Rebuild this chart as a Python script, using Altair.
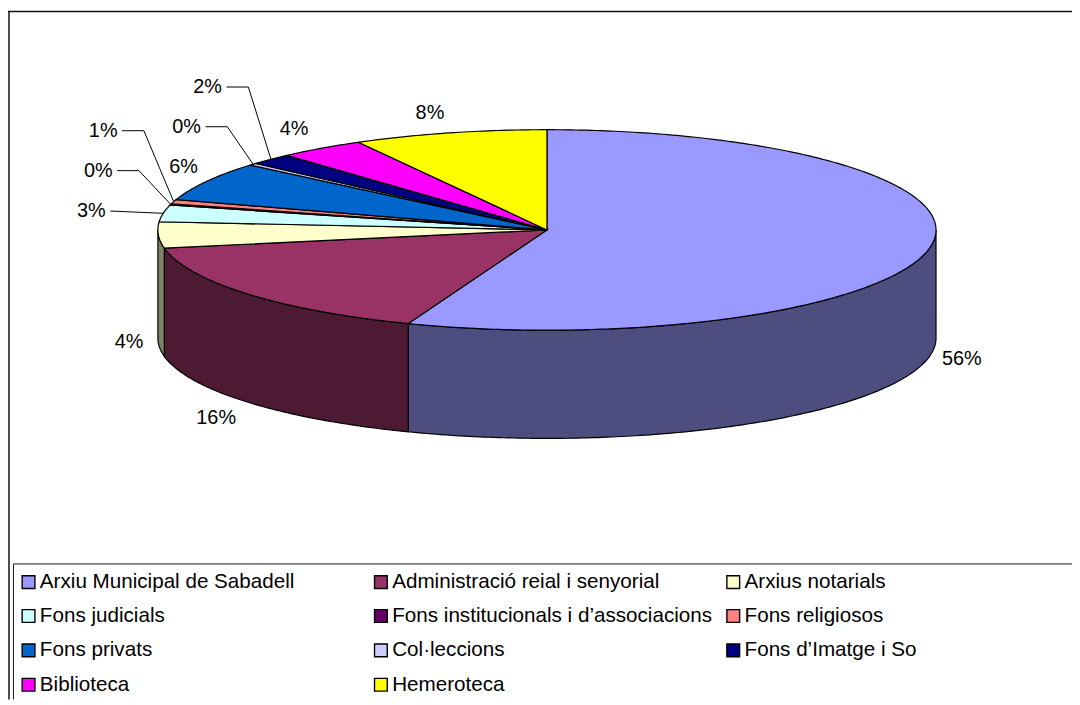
import math
import altair as alt

categories = ["Arxiu Municipal de Sabadell", "Administració reial i senyorial", "Arxius notarials",
              "Fons judicials", "Fons institucionals i d’associacions", "Fons religiosos",
              "Fons privats", "Col·leccions", "Fons d’Imatge i So", "Biblioteca", "Hemeroteca"]
shares = [55.8, 16.3, 4.2, 2.7, 0.2, 0.7, 6.3, 0.35, 1.8, 3.6, 8.05]
percent_labels = ["56%", "16%", "4%", "3%", "0%", "1%", "6%", "0%", "2%", "4%", "8%"]

top_colors = ["#9999FF", "#993366", "#FFFFCC", "#CCFFFF", "#660066", "#FF8080",
              "#0066CC", "#CCCCFF", "#000080", "#FF00FF", "#FFFF00"]
wall_colors = ["#4D4D80", "#4D1A33", "#808066"]

CX, CY, RX, RY, DEPTH = 551, 232, 392, 101, 109
label_dx = [32.5, -32, -29.5, -72.4, -73, -71, -23.2, -67, -63.8, -27.4, -19.8]
label_dy = [111.7, 124.4, 107.9, -2.3, -34, -71.5, -14, -37.8, -72.8, -19.8, -20.2]
leader_kind = [None, None, None, "straight", "elbow", "elbow", None, "elbow", "elbow", None, None]
LEADER_GAP, LEADER_ELBOW = 19, 41


def rim(p, drop=0.0):
    a = 2 * math.pi * p / 100
    return [CX + RX * math.sin(a), CY - RY * math.cos(a) + drop]


def arc(p0, p1, drop=0.0):
    n = max(2, int((p1 - p0) / 0.2) + 1)
    return [rim(p0 + (p1 - p0) * i / (n - 1), drop) for i in range(n)]


def feature(ring, **props):
    return {"type": "Feature", "properties": props,
            "geometry": {"type": "Polygon", "coordinates": [ring + [ring[0]]]}}


total = sum(shares)
bounds = [0.0]
for s in shares:
    bounds.append(bounds[-1] + s * 100 / total)

tops, walls, labels, leaders = [], [], [], []
for i, name in enumerate(categories):
    p0, p1 = bounds[i], bounds[i + 1]
    tops.append(feature([[CX, CY]] + arc(p0, p1), name=name))
    w0, w1 = max(p0, 25.0), min(p1, 75.0)
    if w1 > w0:
        walls.append(feature(arc(w0, w1) + arc(w0, w1, DEPTH)[::-1], fill=wall_colors[i]))
    mx, my = rim((p0 + p1) / 2)
    lx, ly = mx + label_dx[i], my + label_dy[i]
    labels.append({"lon": lx, "lat": ly, "text": percent_labels[i]})
    if leader_kind[i]:
        pts = [[lx + LEADER_GAP, ly]]
        if leader_kind[i] == "elbow":
            pts.append([lx + LEADER_ELBOW, ly])
        pts.append([mx, my])
        for k, (a, b) in enumerate(pts):
            leaders.append({"lon": a, "lat": b, "k": k, "id": i})

proj = dict(type="identity", scale=1, translate=[-8, -11])
FONT = "Liberation Sans"

wall_layer = alt.Chart(alt.Data(values=walls)).mark_geoshape(stroke="black", strokeWidth=1.2).encode(
    fill=alt.Fill("properties.fill:N", scale=None)
).project(**proj)

top_layer = alt.Chart(alt.Data(values=tops)).mark_geoshape(stroke="black", strokeWidth=1.2).encode(
    color=alt.Color(
        "properties.name:N",
        scale=alt.Scale(domain=categories, range=top_colors),
        legend=alt.Legend(
            title=None, orient="none", legendX=10.3, legendY=565, columns=3, direction="horizontal",
            gridAlign="all", columnPadding=10, rowPadding=12.6, padding=0,
            symbolType="square", symbolSize=165, symbolStrokeColor="black", symbolStrokeWidth=1.4,
            labelFont=FONT, labelFontSize=20.8, labelColor="black", labelLimit=500, labelOffset=1,
            values=categories,
        ),
    )
).project(**proj)

leader_layer = alt.Chart(alt.Data(values=leaders)).mark_line(color="black", strokeWidth=1).encode(
    longitude="lon:Q", latitude="lat:Q", detail="id:N", order="k:Q"
).project(**proj)

label_layer = alt.Chart(alt.Data(values=labels)).mark_text(
    font=FONT, fontSize=20, color="black", align="center", baseline="middle"
).encode(longitude="lon:Q", latitude="lat:Q", text="text:N").project(**proj)

frame_h = alt.Chart(alt.Data(values=[{"a": 1}])).mark_rule(color="#111", strokeWidth=1.5).encode(
    x=alt.value(0), x2=alt.value(1072), y=alt.value(1))
frame_v = alt.Chart(alt.Data(values=[{"a": 1}])).mark_rule(color="#111", strokeWidth=1.5).encode(
    x=alt.value(1), y=alt.value(1), y2=alt.value(694))
box_h = alt.Chart(alt.Data(values=[{"a": 1}])).mark_rule(color="#111", strokeWidth=1).encode(
    x=alt.value(5.5), x2=alt.value(1072), y=alt.value(557.5))
box_v = alt.Chart(alt.Data(values=[{"a": 1}])).mark_rule(color="#111", strokeWidth=1).encode(
    x=alt.value(5.5), y=alt.value(557.5), y2=alt.value(694))

chart = alt.layer(
    frame_h, frame_v, box_h, box_v, wall_layer, top_layer, leader_layer, label_layer
).properties(
    width=1072, height=694, padding=0, autosize=alt.AutoSizeParams(type="none"), background="white"
).configure_view(stroke=None)

chart.save("out.html", embed_options={"renderer": "svg", "actions": False})
